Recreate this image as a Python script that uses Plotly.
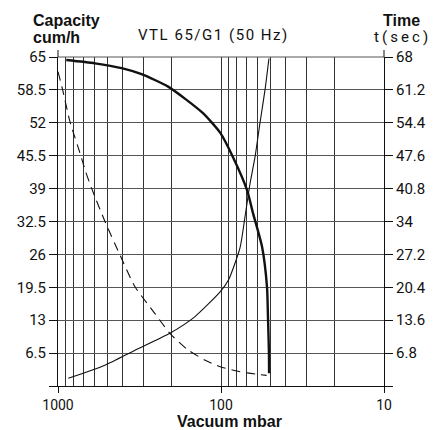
import plotly.graph_objects as go

# ---- data ----
cap_p = [890, 593, 407, 307, 210, 130, 101, 84.4, 69.2, 63.7, 56.0, 52.2, 51.5, 50.8, 50.7]
cap_v = [64.4, 63.75, 62.8, 61.6, 59.1, 54.0, 50.0, 45.2, 38.7, 34.2, 27.5, 19.5, 13.6, 6.5, 2.5]

dash_p = [1000, 941, 844, 726, 676, 621, 515, 417, 337, 254, 206, 159, 125, 101, 76.4, 59, 52.5]
dash_v = [62.1, 58.8, 52.2, 45.6, 42.3, 39.0, 32.5, 25.9, 19.6, 14.3, 10.4, 7.1, 5.1, 3.8, 2.8, 2.3, 2.1]

time_p = [865, 515, 337, 206, 145, 101, 90, 76.4, 71.3, 66.4, 61.8, 57.7, 53.7, 50.8]
time_t = [1.6, 4.3, 7.4, 10.9, 14.3, 19.5, 21.9, 28.6, 34.9, 41.8, 47.4, 54.3, 61.2, 67.7]

left_ticks = [0, 6.5, 13, 19.5, 26, 32.5, 39, 45.5, 52, 58.5, 65]
left_labels = ["", "6.5", "13", "19.5", "26", "32.5", "39", "45.5", "52", "58.5", "65"]
right_ticks = [0, 6.8, 13.6, 20.4, 27.2, 34, 40.8, 47.6, 54.4, 61.2, 68]
right_labels = ["", "6.8", "13.6", "20.4", "27.2", "34", "40.8", "47.6", "54.4", "61.2", "68"]
x_ticks = [1000, 100, 10]
x_labels = ["1000", "100", "10"]
x_minor = [900, 800, 700, 600, 500, 400, 300, 200, 90, 80, 70, 60, 50, 40, 30, 20]

title_text = "VTL 65/G1 (50 Hz)"

def spaced(s, sp):
    return sp.join(list(s))

NARROW = "Roboto, Liberation Sans, Arial"
BOLD = "Liberation Sans, Arial"

W, H = 440, 430
L, R, T, B = 58, 56, 57, 44
pw, ph = W - L - R, H - T - B

def px(x):
    return (x - L) / pw

def py(y):
    return (H - B - y) / ph

fig = go.Figure()
fig.add_trace(go.Scatter(x=dash_p, y=dash_v, mode="lines", line=dict(color="#111", width=1.1, dash="9px,6px", shape="spline", smoothing=0.6), showlegend=False))
fig.add_trace(go.Scatter(x=time_p, y=time_t, yaxis="y2", mode="lines", line=dict(color="#111", width=1.1, shape="spline", smoothing=0.6), showlegend=False))
fig.add_trace(go.Scatter(x=cap_p, y=cap_v, mode="lines", line=dict(color="#111", width=2.4, shape="spline", smoothing=0.6), showlegend=False))

tickfont = dict(family=NARROW, size=15, color="#111")
xtickfont = dict(family=NARROW, size=14, color="#111")

fig.update_layout(
    width=W, height=H,
    margin=dict(l=L, r=R, t=T, b=B, autoexpand=False),
    paper_bgcolor="white", plot_bgcolor="white",
    xaxis=dict(type="log", range=[3, 1], tickvals=x_ticks, ticktext=x_labels, automargin=False,
               ticks="outside", ticklen=6, tickcolor="#111", tickfont=xtickfont,
               showgrid=True, gridcolor="#333", gridwidth=1,
               showline=True, linecolor="#111", linewidth=1, zeroline=False,
               minor=dict(tickvals=x_minor, showgrid=True, gridcolor="#333", gridwidth=1, ticks="")),
    yaxis=dict(range=[0, 65], tickvals=left_ticks, ticktext=left_labels, automargin=False,
               ticks="outside", ticklen=8, tickcolor="#111", tickfont=tickfont,
               showgrid=True, gridcolor="#555", gridwidth=1,
               showline=True, linecolor="#111", linewidth=1, zeroline=False),
    yaxis2=dict(range=[0, 68], overlaying="y", side="right", tickvals=right_ticks,
                ticktext=right_labels, automargin=False,
                ticks="outside", ticklen=8, tickcolor="#111", tickfont=tickfont,
                showgrid=False, showline=True, linecolor="#111", linewidth=1, zeroline=False),
)

# top border and short axis extensions above the top
fig.add_shape(type="line", xref="paper", yref="paper", x0=0, x1=1, y0=1, y1=1, line=dict(color="#555", width=1))
for xx in (0, 1):
    fig.add_shape(type="line", xref="paper", yref="paper", x0=xx, x1=xx, y0=1, y1=py(50), line=dict(color="#111", width=1))

def ann(text, x, y, font, xanchor="center"):
    fig.add_annotation(text=text, xref="paper", yref="paper", x=px(x), y=py(y),
                       xanchor=xanchor, yanchor="middle", showarrow=False, font=font)

bold16 = dict(family=BOLD, size=16, color="#111", weight="bold")
ann("Capacity", 31, 20, bold16, "left")
ann("cum/h", 31, 37, bold16, "left")
ann("Time", 402, 20, bold16)
ann(spaced("t(sec)", "\u2009"), 401, 37, tickfont)
ann(spaced(title_text, "\u200a"), 212, 35, tickfont)
ann("Vacuum mbar", 230, 422, bold16)

fig.write_html("out.html")
